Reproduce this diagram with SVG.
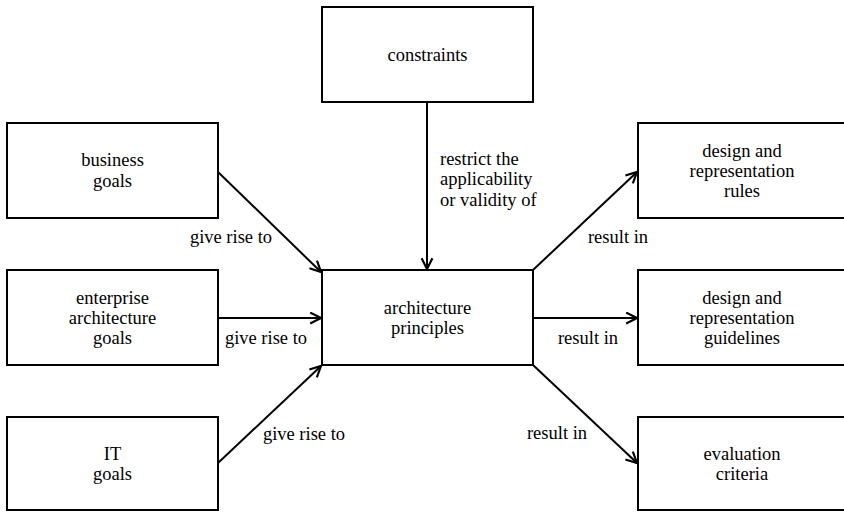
<svg xmlns="http://www.w3.org/2000/svg" width="844" height="512" viewBox="0 0 844 512">
<defs>
<style>
text{font-family:"Liberation Serif",Tinos,"Times New Roman","DejaVu Serif",serif;font-size:18.5px;fill:#000}
.box{fill:#fff;stroke:#000;stroke-width:2}
.t{text-anchor:middle}
.e{stroke:#000;stroke-width:2;fill:none;marker-end:url(#arr)}
</style>
<marker id="arr" viewBox="0 0 12 12" refX="11" refY="6" markerWidth="13" markerHeight="13" markerUnits="userSpaceOnUse" orient="auto">
<path d="M1,1 L11,6 L1,11" fill="none" stroke="#000" stroke-width="2"/>
</marker>
</defs>
<rect width="844" height="512" fill="#fff"/>
<g id="connectors">
<line class="e" x1="427" y1="102" x2="427" y2="269"/>
<line class="e" x1="218" y1="172" x2="321" y2="272"/>
<line class="e" x1="218" y1="318" x2="321" y2="318"/>
<line class="e" x1="218" y1="463" x2="321" y2="366"/>
<line class="e" x1="533" y1="270" x2="637" y2="172"/>
<line class="e" x1="533" y1="318" x2="637" y2="318"/>
<line class="e" x1="533" y1="365" x2="637" y2="463"/>
<text x="440" y="165">restrict the</text>
<text x="440" y="185">applicability</text>
<text x="440" y="206">or validity of</text>
<text class="t" x="231" y="243">give rise to</text>
<text class="t" x="266" y="344">give rise to</text>
<text class="t" x="304" y="440">give rise to</text>
<text class="t" x="618" y="243">result in</text>
<text class="t" x="588" y="344">result in</text>
<text class="t" x="557" y="439">result in</text>
</g>
<g id="constraints">
<rect class="box" x="322" y="7" width="211" height="95"/>
<text class="t" x="427.5" y="61">constraints</text>
</g>
<g id="business-goals">
<rect class="box" x="7" y="123" width="211" height="95"/>
<text class="t" x="112.5" y="166">business</text>
<text class="t" x="112.5" y="187">goals</text>
</g>
<g id="ea-goals">
<rect class="box" x="7" y="270" width="211" height="95"/>
<text class="t" x="112.5" y="304">enterprise</text>
<text class="t" x="112.5" y="324">architecture</text>
<text class="t" x="112.5" y="344">goals</text>
</g>
<g id="it-goals">
<rect class="box" x="7" y="417" width="211" height="93"/>
<text class="t" x="112.5" y="460">IT</text>
<text class="t" x="112.5" y="480">goals</text>
</g>
<g id="architecture-principles">
<rect class="box" x="322" y="270" width="211" height="95"/>
<text class="t" x="427.5" y="314">architecture</text>
<text class="t" x="427.5" y="334">principles</text>
</g>
<g id="design-rules">
<rect class="box" x="638" y="123" width="211" height="95"/>
<text class="t" x="742" y="157">design and</text>
<text class="t" x="742" y="177">representation</text>
<text class="t" x="742" y="197">rules</text>
</g>
<g id="design-guidelines">
<rect class="box" x="638" y="270" width="211" height="95"/>
<text class="t" x="742" y="304">design and</text>
<text class="t" x="742" y="324">representation</text>
<text class="t" x="742" y="344">guidelines</text>
</g>
<g id="evaluation-criteria">
<rect class="box" x="638" y="417" width="211" height="93"/>
<text class="t" x="742" y="460">evaluation</text>
<text class="t" x="742" y="480">criteria</text>
</g>
</svg>
